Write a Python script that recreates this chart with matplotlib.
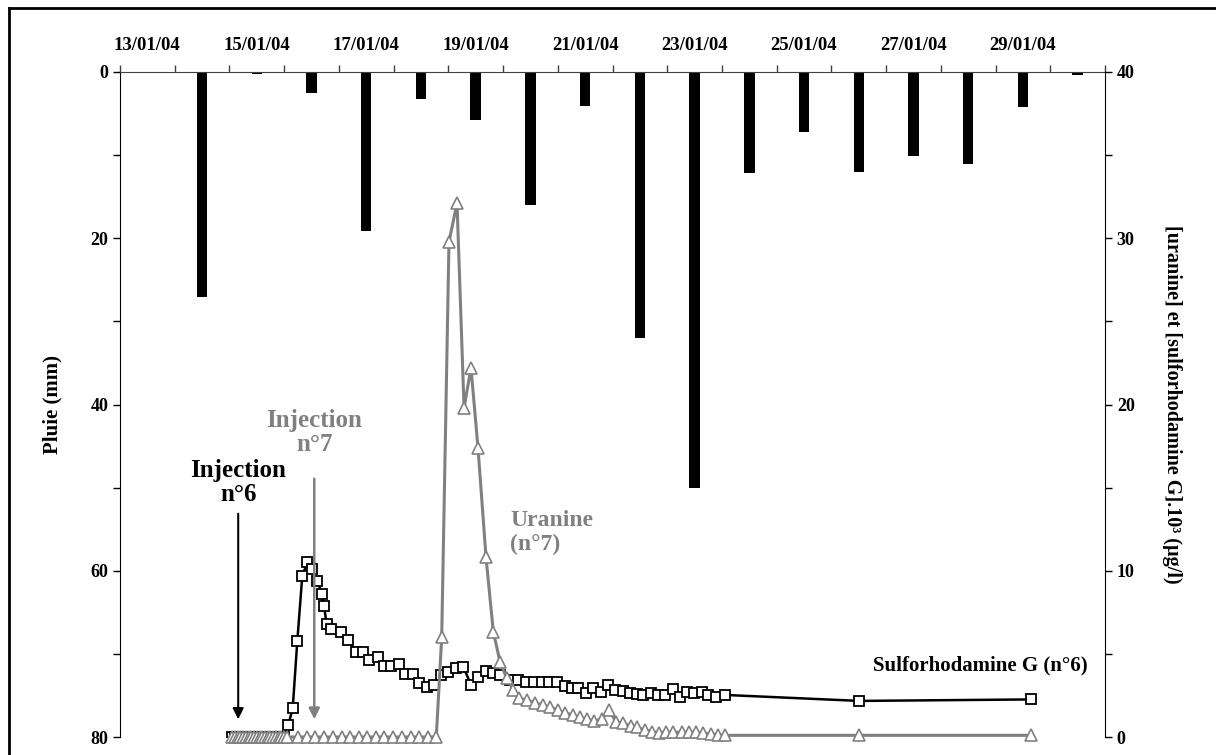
import numpy as np
import matplotlib.pyplot as plt
from matplotlib.lines import Line2D

plt.rcParams['font.family'] = ['Liberation Serif', 'DejaVu Serif']
plt.rcParams['font.weight'] = 'bold'

# pluie journaliere (mm), une categorie par jour
jours = ['13/01/04', '14/01/04', '15/01/04', '16/01/04', '17/01/04', '18/01/04',
         '19/01/04', '20/01/04', '21/01/04', '22/01/04', '23/01/04', '24/01/04',
         '25/01/04', '26/01/04', '27/01/04', '28/01/04', '29/01/04', '30/01/04']
pluie = [0, 27.1, 0.3, 2.5, 19.1, 3.2, 5.8, 16.0, 4.1, 32.0, 50.0, 12.1,
         7.2, 12.0, 10.1, 11.1, 4.2, 0.4]

# temps en jours depuis le 13/01/04 0h, concentrations x10^3 (µg/l)
t_sulfo = [2.05, 2.10, 2.15, 2.20, 2.25, 2.30, 2.35, 2.40, 2.45, 2.50, 2.55,
           2.60, 2.65, 2.70, 2.75, 2.80, 2.85, 2.90, 2.95, 3.00,
           3.076, 3.156, 3.240, 3.331, 3.423, 3.514, 3.606, 3.697, 3.728, 3.777,
           3.856, 4.033, 4.172, 4.313, 4.446, 4.556, 4.709, 4.825, 4.947, 5.099,
           5.208, 5.349, 5.470, 5.605, 5.747, 5.870, 5.990, 6.140, 6.274, 6.414,
           6.548, 6.689, 6.822, 6.944, 7.127, 7.279, 7.420, 7.566, 7.707, 7.845,
           7.980, 8.132, 8.255, 8.375, 8.516, 8.649, 8.785, 8.924, 9.046, 9.187,
           9.320, 9.454, 9.560, 9.695, 9.825, 9.960, 10.111, 10.234, 10.356, 10.490,
           10.630, 10.751, 10.892, 11.056, 13.511, 16.643]
c_sulfo = [0, 0, 0, 0, 0, 0, 0, 0, 0, 0, 0,
           0, 0, 0, 0, 0, 0, 0, 0, 0,
           0.72, 1.73, 5.77, 9.68, 10.5, 10.1, 9.38, 8.58, 7.88, 6.78,
           6.48, 6.33, 5.83, 5.13, 5.13, 4.63, 4.79, 4.27, 4.27, 4.37,
           3.77, 3.77, 3.23, 3.03, 3.11, 3.73, 3.93, 4.13, 4.23, 3.13,
           3.59, 3.99, 3.87, 3.73, 3.43, 3.43, 3.33, 3.33, 3.33, 3.33,
           3.29, 3.07, 2.93, 2.93, 2.67, 2.93, 2.73, 3.13, 2.83, 2.79,
           2.63, 2.59, 2.53, 2.63, 2.55, 2.55, 2.87, 2.39, 2.73, 2.67,
           2.73, 2.53, 2.43, 2.53, 2.17, 2.26]

t_uranine = [2.05, 2.10, 2.15, 2.20, 2.25, 2.30, 2.35, 2.40, 2.45, 2.50, 2.55,
             2.60, 2.65, 2.70, 2.75, 2.80, 2.85, 2.90, 2.95, 3.00, 3.05,
             3.26, 3.41, 3.57, 3.73, 3.89, 4.05, 4.20, 4.36, 4.52, 4.68,
             4.83, 4.99, 5.15, 5.31, 5.46, 5.62, 5.78,
             5.879, 6.012, 6.159, 6.287, 6.414, 6.542, 6.689, 6.822, 6.944, 7.067,
             7.188, 7.297, 7.443, 7.584, 7.725, 7.858, 7.999, 8.132, 8.273, 8.406,
             8.529, 8.668, 8.803, 8.936, 9.064, 9.198, 9.333, 9.454, 9.594, 9.717,
             9.856, 9.978, 10.111, 10.265, 10.404, 10.526, 10.660, 10.795, 10.934,
             11.056, 13.511, 16.643]
c_uranine = [0, 0, 0, 0, 0, 0, 0, 0, 0, 0, 0,
             0, 0, 0, 0, 0, 0, 0, 0, 0, 0,
             0, 0, 0, 0, 0, 0, 0, 0, 0, 0,
             0, 0, 0, 0, 0, 0, 0,
             6.0, 29.8, 32.1, 19.8, 22.2, 17.4, 10.8, 6.33, 4.53, 3.53,
             2.83, 2.32, 2.22, 2.06, 1.92, 1.79, 1.62, 1.46, 1.32, 1.18,
             1.06, 0.98, 1.06, 1.62, 0.92, 0.82, 0.66, 0.58, 0.42, 0.32,
             0.26, 0.30, 0.28, 0.28, 0.28, 0.28, 0.22, 0.18, 0.14,
             0.10, 0.10, 0.10]

inj6_t = 2.16
inj7_t = 3.55
gris = '#808080'

fig = plt.figure(figsize=(12.16, 7.55), dpi=100)
ax = fig.add_axes([120 / 1216, 18 / 755, 985 / 1216, 665 / 755])

# pluie en barres (axe gauche inverse)
ax.bar(np.arange(len(pluie)) + 0.5, pluie, width=0.19, color='black', zorder=2)
ax.set_xlim(0, len(pluie))
ax.set_ylim(80, 0)
ax.xaxis.tick_top()
ax.set_xticks(np.arange(len(pluie) + 1))
ax.set_xticklabels([])
ax.set_xticks(np.arange(len(pluie))[::2] + 0.5, minor=True)
ax.set_xticklabels(jours[::2], minor=True, fontsize=13.5, fontweight='bold')
ax.tick_params(axis='x', which='major', direction='out', length=5, width=1, color='#404040')
ax.tick_params(axis='x', which='minor', length=0, pad=13)
ax.set_yticks([0, 20, 40, 60, 80])
ax.set_yticks([10, 30, 50, 70], minor=True)
ax.tick_params(axis='y', which='both', direction='out', length=5, width=1, labelsize=13)
for lab in ax.get_yticklabels():
    lab.set_fontweight('bold')
ax.set_ylabel('Pluie (mm)', fontsize=15, fontweight='bold', labelpad=20)
ax.spines['bottom'].set_visible(False)
ax.spines['right'].set_visible(False)
ax.spines['top'].set_color('#404040')

# traceurs (axe droit)
ax2 = ax.twinx()
ax2.plot(t_sulfo, c_sulfo, color='black', lw=1.8, marker='s', ms=7, mfc='white',
         mec='black', mew=1.3, zorder=3)
ax2.plot(t_uranine, c_uranine, color=gris, lw=2.2, marker='^', ms=8, mfc='white',
         mec=gris, mew=1.2, zorder=4, clip_on=False)
ax2.set_ylim(0, 40)
ax2.set_yticks([0, 10, 20, 30, 40])
ax2.set_yticks([5, 15, 25, 35], minor=True)
ax2.tick_params(axis='y', which='both', direction='out', length=5, width=1, labelsize=13)
for lab in ax2.get_yticklabels():
    lab.set_fontweight('bold')
ax2.set_ylabel('[uranine] et [sulforhodamine G].10³ (µg/l)', fontsize=14.5,
               fontweight='bold', rotation=270, va='bottom', labelpad=20)
ax2.spines['bottom'].set_visible(False)
ax2.spines['top'].set_visible(False)
ax2.spines['left'].set_visible(False)

# injections
ax2.annotate('', xy=(inj6_t, 0.9), xytext=(inj6_t, 13.6),
             arrowprops=dict(arrowstyle='-|>', color='black', lw=1.5, mutation_scale=16))
ax2.annotate('', xy=(inj7_t, 0.9), xytext=(inj7_t, 15.7),
             arrowprops=dict(arrowstyle='-|>', color=gris, lw=1.8, mutation_scale=16))
ax2.text(inj6_t, 15.3, 'Injection\nn°6', ha='center', va='center', fontsize=18,
         fontweight='bold', linespacing=1.05)
ax2.text(inj7_t, 18.3, 'Injection\nn°7', ha='center', va='center', fontsize=18,
         fontweight='bold', color=gris, linespacing=1.05)
ax2.text(7.13, 12.3, 'Uranine\n(n°7)', ha='left', va='center', fontsize=17,
         fontweight='bold', color=gris, linespacing=1.15)
ax2.text(17.69, 4.3, 'Sulforhodamine G (n°6)', ha='right', va='center', fontsize=15,
         fontweight='bold')

# cadre du graphique
fig.add_artist(Line2D([9 / 1216, 1], [1 - 8 / 755, 1 - 8 / 755], transform=fig.transFigure,
                      color='black', lw=2))
fig.add_artist(Line2D([9 / 1216, 9 / 1216], [0, 1 - 8 / 755], transform=fig.transFigure,
                      color='black', lw=2))

fig.savefig('out.png', dpi=100)
